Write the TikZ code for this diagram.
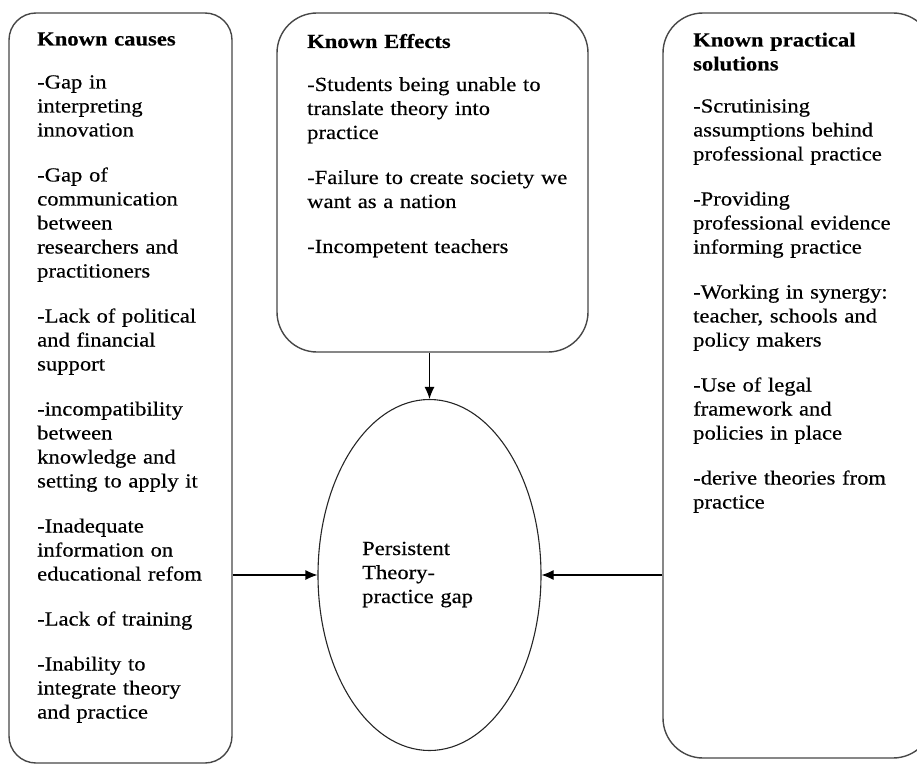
\documentclass[tikz,border=0pt]{standalone}
\usepackage{fontspec}
\setmainfont{Liberation Serif}[FakeStretch=1.13,FakeBold=0.4]
\usetikzlibrary{arrows.meta,shapes.geometric}
\begin{document}
\begin{tikzpicture}[x=1pt,y=-1pt,
  boxstyle/.style={draw=black!72, line width=1.4pt, rounded corners=#1, inner sep=0pt, fill=none},
  txt/.style={anchor=base west, inner sep=0pt, align=left, text width=#1,
    font=\fontsize{20}{24}\selectfont},
  arr/.style={-{Latex[length=12pt,width=10pt]}, line width=1.1pt, black},
  ellstyle/.style={ellipse, draw=black!85, line width=1.1pt, inner sep=0pt}]
\useasboundingbox (0,0) rectangle (917,765);

% boxes
\node[boxstyle=27pt, minimum width=223pt, minimum height=750pt] (lbox) at (120.5,388) {};
\node[boxstyle=40pt, minimum width=311pt, minimum height=339pt] (mbox) at (432.5,182.5) {};
\node[boxstyle=40pt, minimum width=270pt, minimum height=745pt] (rbox) at (798,385.5) {};
\node[ellstyle, minimum width=223pt, minimum height=351pt] (gap) at (429.5,575) {};

% texts
\node[txt=190pt] (ltext) at (37,45.5) {\textbf{Known causes}\\[19pt]
-Gap in\\ interpreting\\ innovation\\[21pt]
-Gap of\\ communication\\ between\\ researchers and\\ practitioners\\[21pt]
-Lack of political\\ and financial\\ support\\[21pt]
-incompatibility\\ between\\ knowledge and\\ setting to apply it\\[21pt]
-Inadequate\\ information on\\ educational refom\\[21pt]
-Lack of training\\[21pt]
-Inability to\\ integrate theory\\ and practice};

\node[txt=275pt] (mtext) at (307,48) {\textbf{Known Effects}\\[19pt]
-Students being unable to\\ translate theory into\\ practice\\[21pt]
-Failure to create society we\\ want as a nation\\[21pt]
-Incompetent teachers};

\node[txt=222pt] (rtext) at (693,46.5) {\textbf{Known practical}\\ \textbf{solutions}\\[18pt]
-Scrutinising\\ assumptions behind\\ professional practice\\[21pt]
-Providing\\ professional evidence\\ informing practice\\[21pt]
-Working in synergy:\\ teacher, schools and\\ policy makers\\[21pt]
-Use of legal\\ framework and\\ policies in place\\[21pt]
-derive theories from\\ practice};

\node[txt=150pt] (gtext) at (362,555) {Persistent\\ Theory-\\ practice gap};

% connectors
\draw[arr] (gap.north |- mbox.south) -- (gap.north);
\draw[arr] (lbox.east |- gap.west) -- (gap.west);
\draw[arr] (rbox.west |- gap.east) -- (gap.east);
\end{tikzpicture}
\end{document}
